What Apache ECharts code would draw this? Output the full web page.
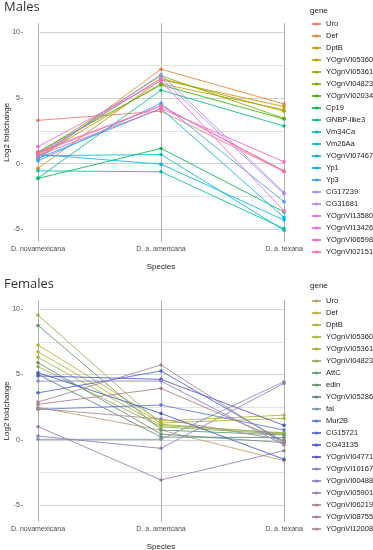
<!DOCTYPE html>
<html>
<head>
<meta charset="utf-8">
<script src="https://cdn.jsdelivr.net/npm/echarts@6/dist/echarts.min.js"></script>
<style>
html,body{margin:0;padding:0;background:#fff;}
#c{width:373px;height:550px;}
</style>
</head>
<body>
<div id="c"></div>
<script>
// ---- data ----
const categories = ['D. novamexicana', 'D. a. americana', 'D. a. texana'];
const yTickValues = [-5, 0, 5, 10];
const yGridValues = [-5, -2.5, 0, 2.5, 5, 7.5, 10];

const maleGenes = ['Uro','Def','DptB','YOgnVI05360','YOgnVI05361','YOgnVI04823','YOgnVI02034','Cp19','GNBP-like3','Vm34Ca','Vm26Aa','YOgnVI07467','Yp1','Yp3','CG17239','CG31681','YOgnVI13580','YOgnVI13426','YOgnVI06598','YOgnVI02151'];
const maleValues = [
  [3.3, 4.0, -0.6],
  [0.3, 7.2, 4.55],
  [-0.35, 6.4, 4.35],
  [0.5, 6.1, 4.1],
  [0.6, 6.5, 4.0],
  [0.8, 6.7, 3.45],
  [0.9, 6.0, 3.4],
  [-1.13, 1.16, -3.68],
  [-1.1, 5.6, 2.86],
  [-0.55, -0.62, -4.95],
  [0.6, 0.7, -5.07],
  [0.7, -0.04, -4.3],
  [0.4, 4.2, -4.1],
  [0.2, 4.6, -2.9],
  [0.5, 6.8, -2.2],
  [0.7, 6.5, -2.3],
  [0.9, 4.4, -0.55],
  [1.3, 6.3, -3.6],
  [0.6, 4.2, 0.14],
  [0.8, 4.4, -0.6]
];

const femaleGenes = ['Uro','Def','DptB','YOgnVI05360','YOgnVI05361','YOgnVI04823','AttC','edin','YOgnVI05286','fal','Mur2B','CG15721','CG43135','YOgnVI04771','YOgnVI10167','YOgnVI00488','YOgnVI05901','YOgnVI06219','YOgnVI08755','YOgnVI12008'];
const femaleValues = [
  [2.5, 0.75, -1.58],
  [7.25, 1.45, 1.9],
  [6.74, 1.3, 1.65],
  [6.31, 1.1, 0.55],
  [9.54, 1.2, 0.5],
  [5.6, 1.0, 0.45],
  [8.75, 0.76, 0.38],
  [5.9, 0.45, -0.2],
  [5.0, 0.23, 0.18],
  [0.05, 0.05, 4.45],
  [2.34, 2.67, 0.76],
  [3.6, 5.27, -0.13],
  [5.14, 2.03, -1.47],
  [4.89, 4.63, 1.12],
  [4.5, 4.5, -0.38],
  [0.3, -0.64, 4.33],
  [1.02, -3.05, -0.82],
  [2.9, 5.73, -0.3],
  [2.72, 3.94, -0.1],
  [2.4, 1.6, 0.0]
];

// ---- palettes ----
const malePalette = ['#F8766D','#EA8331','#D89000','#C09B00','#A3A500','#7CAE00','#39B600','#00BB4E','#00BF7D','#00C1A3','#00BFC4','#00BAE0','#00B0F6','#35A2FF','#9590FF','#C77CFF','#E76BF3','#FA62DB','#FF62BC','#FF6C91'];
const femalePalette = ['#C49A6C','#B5B233','#B3B52B','#A7B52E','#9BB23E','#8FAE55','#5E9A68','#6F8E6E','#5F8686','#7A95A8','#5B78D8','#4A66E2','#3F5BDC','#5454CC','#8383C6','#8C7CC4','#9A7CB2','#A58495','#AA7D85','#A38A8C'];

const FEM = 'F:';
const font = 'Liberation Sans, Arial, sans-serif';

const panels = [
  {left: 38, right: 89, top: 23, bottom: 308.3, min: -5.95, max: 10.72},
  {left: 38, right: 89, top: 300, bottom: 28.3, min: -6.24, max: 10.69}
];

const grids = [];
const xAxes = [];
const yAxes = [];

panels.forEach((p, i) => {
  grids.push({left: p.left, right: p.right, top: p.top, bottom: p.bottom, outerBoundsMode: 'none', containLabel: false});
  xAxes.push({
    type: 'category', gridIndex: i, data: categories, boundaryGap: false,
    axisLine: {show: false}, axisTick: {show: false},
    axisLabel: {fontSize: 7, color: '#4d4d4d', margin: 4, fontFamily: font, hideOverlap: false},
    splitLine: {show: true, lineStyle: {color: '#b0b0b0', width: 1}},
    name: 'Species', nameLocation: 'middle', nameGap: 21, nameMoveOverlap: false,
    nameTextStyle: {fontSize: 8, color: '#222', fontFamily: font}
  });
  yAxes.push({
    type: 'value', gridIndex: i, min: p.min, max: p.max, position: 'left', offset: 15,
    axisLine: {show: false},
    axisTick: {show: true, length: 2, lineStyle: {color: '#999'}, customValues: yTickValues},
    axisLabel: {fontSize: 7, color: '#4d4d4d', margin: 3, fontFamily: font, customValues: yTickValues},
    splitLine: {show: false},
    name: 'Log2 foldchange', nameLocation: 'middle', nameRotate: 90, nameGap: 12, nameMoveOverlap: false,
    nameTextStyle: {fontSize: 8, color: '#222', fontFamily: font}
  });
});

// horizontal grid lines drawn through the y scale
const gridMarkLine = {
  silent: true, symbol: ['none', 'none'], z: 1, animation: false,
  label: {show: false}, emphasis: {disabled: true},
  data: yGridValues.map(v => ({
    yAxis: v,
    lineStyle: {color: (v % 5 === 0) ? '#d2d2d2' : '#e2e2e2', width: 1, type: 'solid', opacity: 1}
  }))
};

function mkSeries(genes, values, palette, gi, prefix) {
  return genes.map((g, k) => {
    const s = {
      type: 'line', name: prefix + g, xAxisIndex: gi, yAxisIndex: gi,
      data: values[k], symbol: 'circle', symbolSize: 3.5, showSymbol: true,
      clip: false, animation: false, z: 3,
      lineStyle: {width: 1, color: palette[k], opacity: 0.85},
      itemStyle: {color: palette[k]},
      emphasis: {disabled: true}
    };
    if (k === 0) s.markLine = gridMarkLine;
    return s;
  });
}

const series = mkSeries(maleGenes, maleValues, malePalette, 0, '')
  .concat(mkSeries(femaleGenes, femaleValues, femalePalette, 1, FEM));

const legendBase = {
  orient: 'vertical', left: 311, padding: 0, itemWidth: 9, itemHeight: 4, itemGap: 0,
  textStyle: {fontSize: 7.5, lineHeight: 12, color: '#222', fontFamily: font},
  selectedMode: false,
  formatter: n => n.startsWith(FEM) ? n.slice(FEM.length) : n
};

const option = {
  backgroundColor: '#fff',
  animation: false,
  title: [
    {text: 'Males', left: 4, top: 1, padding: 0, textStyle: {fontSize: 13, fontWeight: 'normal', color: '#333', fontFamily: 'Open Sans, sans-serif'}},
    {text: 'Females', left: 4, top: 278, padding: 0, textStyle: {fontSize: 13, fontWeight: 'normal', color: '#333', fontFamily: 'Open Sans, sans-serif'}},
    {text: 'gene', left: 310, top: 7, padding: 0, textStyle: {fontSize: 8, fontWeight: 'normal', color: '#222', fontFamily: font}},
    {text: 'gene', left: 310, top: 282, padding: 0, textStyle: {fontSize: 8, fontWeight: 'normal', color: '#222', fontFamily: font}}
  ],
  grid: grids,
  xAxis: xAxes,
  yAxis: yAxes,
  legend: [
    Object.assign({}, legendBase, {top: 18, data: maleGenes}),
    Object.assign({}, legendBase, {top: 295, data: femaleGenes.map(g => FEM + g)})
  ],
  series: series
};

const chart = echarts.init(document.getElementById('c'), null, {renderer: 'canvas'});
chart.setOption(option);
</script>
</body>
</html>
